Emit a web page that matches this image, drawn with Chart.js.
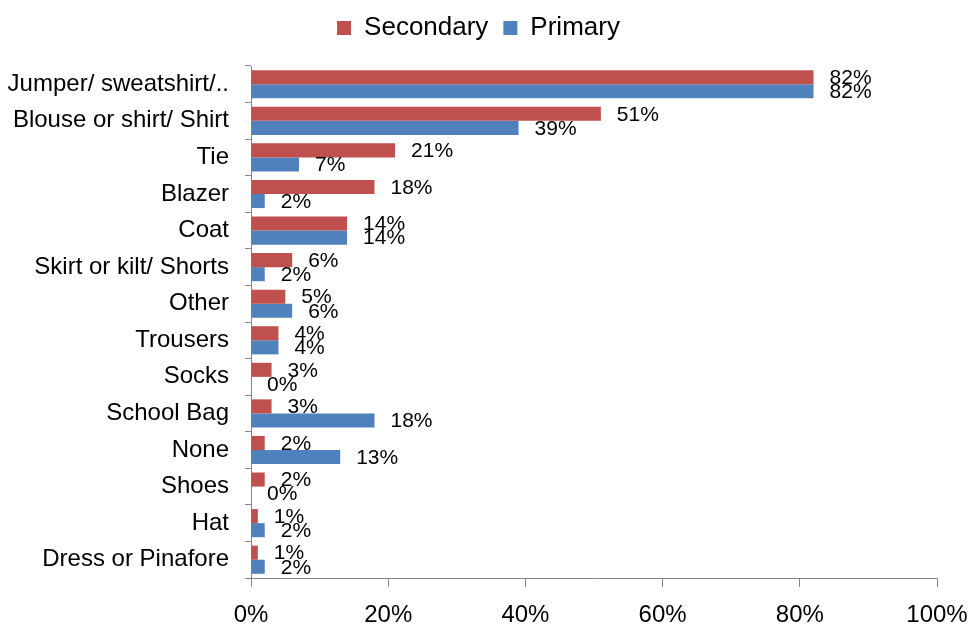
<!DOCTYPE html>
<html>
<head>
<meta charset="utf-8">
<script src="https://cdn.jsdelivr.net/npm/chart.js@4.4.1/dist/chart.umd.min.js"></script>
<style>
html,body{margin:0;padding:0;background:#fff;}
#wrap{width:973px;height:630px;}
</style>
</head>
<body>
<div id="wrap"><canvas id="c" width="973" height="630"></canvas></div>
<script>
const categories = ["Jumper/ sweatshirt/..", "Blouse or shirt/ Shirt", "Tie", "Blazer", "Coat", "Skirt or kilt/ Shorts", "Other", "Trousers", "Socks", "School Bag", "None", "Shoes", "Hat", "Dress or Pinafore"];
const secondary = [82, 51, 21, 18, 14, 6, 5, 4, 3, 3, 2, 2, 1, 1];
const primary = [82, 39, 7, 2, 14, 2, 6, 4, 0, 18, 13, 0, 2, 2];
const xTicks = [0, 20, 40, 60, 80, 100];

const FONT = "'Liberation Sans', Arial, sans-serif";

const labelPlugin = {
  id: 'barLabels',
  afterDatasetsDraw(chart) {
    const ctx = chart.ctx;
    ctx.save();
    ctx.font = "21px " + FONT;
    ctx.fillStyle = '#000';
    ctx.textAlign = 'left';
    ctx.textBaseline = 'middle';
    chart.data.datasets.forEach((ds, di) => {
      const meta = chart.getDatasetMeta(di);
      meta.data.forEach((el, i) => {
        ctx.fillText(ds.data[i] + '%', el.x + 16, el.y + 1);
      });
    });
    ctx.restore();
  }
};

const legendGap = {
  id: 'legendGap',
  beforeInit(chart) {
    const lg = chart.legend;
    if (!lg) return;
    const fit = lg.fit;
    lg.fit = function () { fit.call(this); this.height = 66; };
  }
};

new Chart(document.getElementById('c'), {
  type: 'bar',
  data: {
    labels: categories,
    datasets: [
      { label: 'Secondary', data: secondary, backgroundColor: '#C0504D', borderWidth: 0, barPercentage: 1, categoryPercentage: 0.77 },
      { label: 'Primary', data: primary, backgroundColor: '#4F81BD', borderWidth: 0, barPercentage: 1, categoryPercentage: 0.77 }
    ]
  },
  options: {
    indexAxis: 'y',
    responsive: false,
    animation: false,
    layout: { padding: { left: 0, right: 16, top: 0, bottom: 0 } },
    plugins: {
      legend: {
        position: 'top',
        align: 'center',
        labels: {
          boxWidth: 14, boxHeight: 14, padding: 15,
          color: '#000',
          font: { family: FONT, size: 26 }
        }
      },
      tooltip: { enabled: false }
    },
    scales: {
      x: {
        min: 0, max: 100,
        afterBuildTicks(scale) { scale.ticks = xTicks.map(v => ({ value: v })); },
        ticks: { callback: v => v + '%', color: '#000', font: { family: FONT, size: 24 }, padding: 14, maxRotation: 0 },
        grid: { drawOnChartArea: false, drawTicks: true, tickLength: 9, color: '#868686', lineWidth: 1 },
        border: { color: '#868686', width: 1 },
        afterFit(scale) { scale.height = 52; scale.paddingRight = 36; scale.paddingLeft = 0; }
      },
      y: {
        ticks: { color: '#000', font: { family: FONT, size: 24 }, padding: 16, autoSkip: false },
        grid: { drawOnChartArea: false, drawTicks: true, tickLength: 6, offset: true, color: '#868686', lineWidth: 1 },
        border: { color: '#868686', width: 1 },
        afterFit(scale) { scale.width = 251; }
      }
    }
  },
  plugins: [labelPlugin, legendGap]
});
</script>
</body>
</html>
